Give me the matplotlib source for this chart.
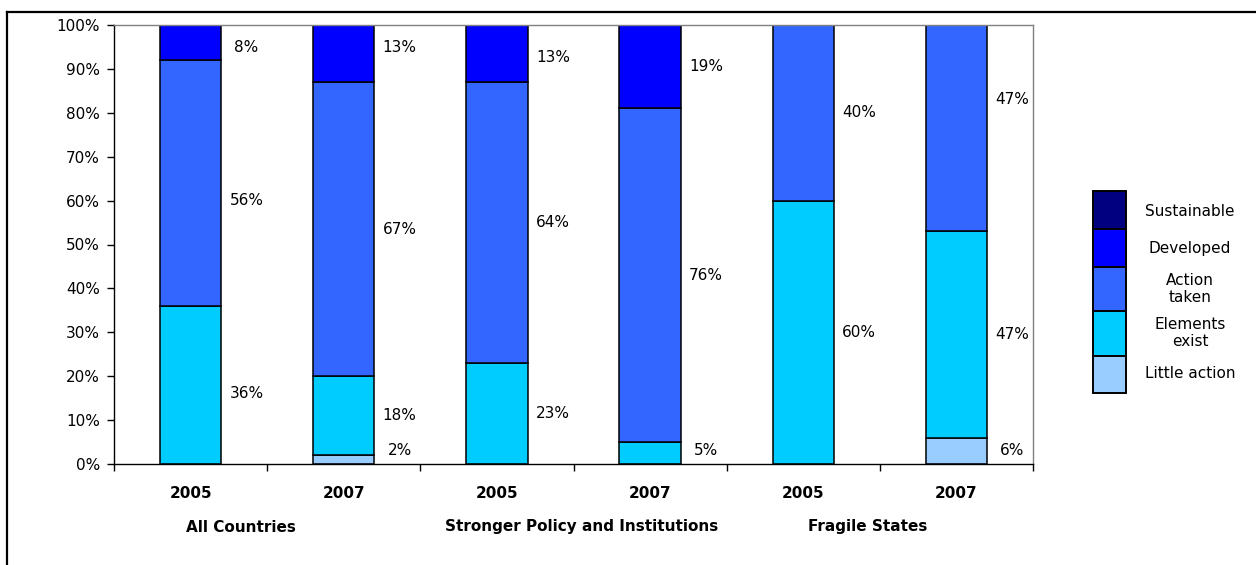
import matplotlib
matplotlib.use("Agg")
import matplotlib.pyplot as plt
from matplotlib.patches import Rectangle
from matplotlib.lines import Line2D
from matplotlib.transforms import blended_transform_factory, offset_copy
import numpy as np

plt.rcParams['font.family'] = ['DejaVu Sans']

# Data (percent of countries in each category)
years = ["2005", "2007", "2005", "2007", "2005", "2007"]
groups = ["All Countries", "Stronger Policy and Institutions", "Fragile States"]
legend_names = ["Sustainable", "Developed", "Action\ntaken", "Elements\nexist", "Little action"]
little_action = [0, 2, 0, 0, 0, 6]
elements_exist = [36, 18, 23, 5, 60, 47]
action_taken = [56, 67, 64, 76, 40, 47]
developed = [8, 13, 13, 19, 0, 0]
sustainable = [0, 0, 0, 0, 0, 0]

colors = ["#99CCFF", "#00CCFF", "#3366FF", "#0000FF", "#000080"]
series = [little_action, elements_exist, action_taken, developed, sustainable]

# small vertical nudges (in % units) for a few value labels: (bar, series) -> dy
label_nudge = {(0, 2): -4.0, (0, 1): -2.0, (5, 2): 6.5, (1, 3): 1.3,
               (0, 3): -1.2, (2, 3): -0.8}

W, H = 1256, 565
FS = 11
fig = plt.figure(figsize=(W / 100, H / 100), dpi=100)

# Outer chart frame (top and left edges)
fig.add_artist(Line2D([7 / W, 1.0], [1 - 12 / H, 1 - 12 / H], color="black", lw=1.6))
fig.add_artist(Line2D([7 / W, 7 / W], [1 - 12 / H, 0.0], color="black", lw=1.6))

ax_l, ax_r, ax_t, ax_b = 114, 1033, 25, 464
ax = fig.add_axes([ax_l / W, 1 - ax_b / H, (ax_r - ax_l) / W, (ax_b - ax_t) / H])

x = np.arange(len(years)) + 0.5
bar_w = 0.4
bottom = np.zeros(len(years))
for si, (vals, col) in enumerate(zip(series, colors)):
    vals = np.array(vals, dtype=float)
    ax.bar(x, vals, bar_w, bottom=bottom, color=col, edgecolor="black", linewidth=1.1, zorder=2)
    for bi, (xi, b, v) in enumerate(zip(x, bottom, vals)):
        if v > 0:
            ym = max(b + v / 2, 3.0) + label_nudge.get((bi, si), 0.0)
            ax.text(xi + bar_w / 2 + 0.165, ym, f"{int(v)}%", ha="center", va="center",
                    fontsize=FS, color="black", zorder=3)
    bottom += vals

ax.set_xlim(0, len(years))
ax.set_ylim(0, 100)
ax.set_yticks(np.arange(0, 101, 10))
ax.set_yticklabels([f"{v}%" for v in range(0, 101, 10)], fontsize=FS)
ax.set_xticks(np.arange(0, len(years) + 1))
ax.set_xticklabels([])
ax.tick_params(axis="both", direction="out", length=5, width=1, color="black")
ax.tick_params(axis="y", pad=5)

for s in ["top", "right"]:
    ax.spines[s].set_color("#808080")
    ax.spines[s].set_linewidth(1.0)
for s in ["left", "bottom"]:
    ax.spines[s].set_color("black")
    ax.spines[s].set_linewidth(1.0)

# Category labels: years under each bar, group names under each pair
tr = blended_transform_factory(ax.transData, fig.transFigure)
for xi, yr in zip(x, years):
    ax.text(xi, 1 - 494 / H, yr, transform=tr, ha="center", va="center",
            fontsize=FS, fontweight="bold")
group_dx = [-26, 8, -12]
for gi, g in enumerate(groups):
    t = offset_copy(tr, fig=fig, x=group_dx[gi], y=0, units="dots")
    ax.text(2 * gi + 1, 1 - 527 / H, g, transform=t, ha="center", va="center",
            fontsize=FS, fontweight="bold")

# Legend: stacked swatches with centered labels
edges = [191, 229, 267, 311, 356, 393]
text_y = [211, 248, 289, 333, 374]
leg_colors = colors[::-1]
for i, (name, col) in enumerate(zip(legend_names, leg_colors)):
    y0, y1 = edges[i], edges[i + 1]
    fig.add_artist(Rectangle((1093 / W, 1 - y1 / H), 33 / W, (y1 - y0) / H,
                             facecolor=col, edgecolor="black", linewidth=1.4,
                             transform=fig.transFigure))
    fig.text(1190 / W, 1 - text_y[i] / H, name, ha="center", va="center",
             multialignment="center", fontsize=FS, linespacing=1.15)

fig.savefig("out.png", dpi=100)
